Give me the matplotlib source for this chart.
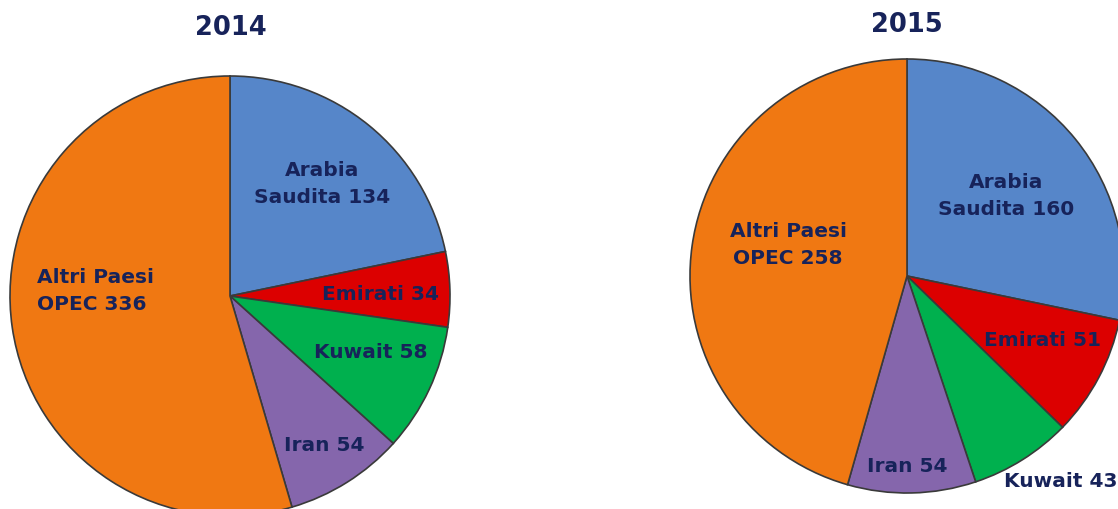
import matplotlib
matplotlib.use("Agg")
import matplotlib.pyplot as plt

# dati (migliaia di barili / anno)
paesi = ["Arabia Saudita", "Emirati", "Kuwait", "Iran", "Altri Paesi OPEC"]
valori_2014 = [134, 34, 58, 54, 336]
valori_2015 = [160, 51, 43, 54, 258]
anni = ["2014", "2015"]

colori = ["#5686C9", "#DC0000", "#00B04E", "#8566AC", "#F07812"]
blu = "#17235A"

W, H = 1118, 510
fig = plt.figure(figsize=(W / 100, H / 100), dpi=100)
ax = fig.add_axes([0, 0, 1, 1])

def py(y):
    # da coordinate pixel (dall'alto) a coordinate dati
    return H - y

# centri e raggi delle torte
torte = [((230, py(297)), 220), ((907, py(277)), 217)]

for valori, (centro, r) in zip([valori_2014, valori_2015], torte):
    ax.pie(valori, colors=colori, startangle=90, counterclock=False,
           center=centro, radius=r, frame=True,
           wedgeprops=dict(edgecolor="#3a3a3a", linewidth=1.2))

ax.set_xlim(0, W)
ax.set_ylim(0, H)
ax.set_aspect("equal")
ax.axis("off")

# titoli
ax.text(231, py(28), anni[0], ha="center", va="center", fontsize=18.5,
        fontweight="bold", color=blu)
ax.text(907, py(25), anni[1], ha="center", va="center", fontsize=18.5,
        fontweight="bold", color=blu)

def etichette(valori):
    return ["Arabia\nSaudita %d" % valori[0],
            "Emirati %d" % valori[1],
            "Kuwait %d" % valori[2],
            "Iran %d" % valori[3],
            "Altri Paesi\nOPEC %d" % valori[4]]

pos_2014 = [(322, 184, "center"), (380, 295, "center"), (371, 352, "center"),
            (324, 446, "center"), (37, 291, "left")]
pos_2015 = [(1006, 196, "center"), (1042, 340, "center"), (1061, 482, "center"),
            (907, 467, "center"), (788, 245, "center")]

for valori, posizioni in [(valori_2014, pos_2014), (valori_2015, pos_2015)]:
    for testo, (x, y, al) in zip(etichette(valori), posizioni):
        ax.text(x, py(y), testo, ha=al, va="center", fontsize=14.5,
                fontweight="bold", color=blu, multialignment=al,
                linespacing=1.5)

fig.savefig("out.png", dpi=100)
